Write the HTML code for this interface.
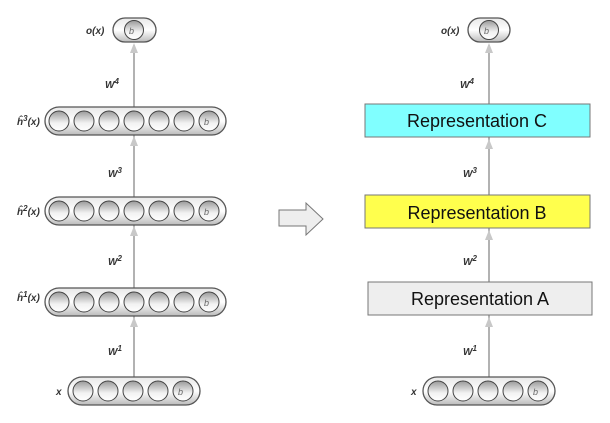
<!DOCTYPE html>
<html><head><style>body{margin:0;background:#fff}svg{display:block}</style></head><body>
<svg width="610" height="423" viewBox="0 0 610 423" xmlns="http://www.w3.org/2000/svg" font-family="Liberation Sans, sans-serif">
<defs>
<linearGradient id="g" x1="0" y1="0" x2="0" y2="1"><stop offset="0" stop-color="#e8e8e8"/><stop offset="0.5" stop-color="#fff"/><stop offset="1" stop-color="#bbb"/></linearGradient>
<linearGradient id="c" x1="0" y1="0" x2="0" y2="1"><stop offset="0" stop-color="#999"/><stop offset="0.6" stop-color="#f2f2f2"/><stop offset="1" stop-color="#fff"/></linearGradient>
</defs>
<g stroke="#999" stroke-width="1.5" fill="none">
<line x1="134" y1="45" x2="134" y2="377"/>
<line x1="489" y1="45" x2="489" y2="377"/>
</g>
<g fill="#c8c8c8">
<polygon points="134,43 130,53 138,53"/><polygon points="134,136 130,146 138,146"/><polygon points="134,226 130,236 138,236"/><polygon points="134,317 130,327 138,327"/>
<polygon points="489,43 485,53 493,53"/><polygon points="489,139 485,149 493,149"/><polygon points="489,230 485,240 493,240"/><polygon points="489,317 485,327 493,327"/>
</g>
<rect x="113" y="18" width="43" height="24" rx="12" fill="url(#g)" stroke="#555" stroke-width="1.3"/>
<circle cx="134" cy="30" r="9.5" fill="url(#c)" stroke="#444"/>
<rect x="468" y="18" width="42" height="24" rx="12" fill="url(#g)" stroke="#555" stroke-width="1.3"/>
<circle cx="489" cy="30" r="9.5" fill="url(#c)" stroke="#444"/>
<g font-size="9" font-style="italic" fill="#666"><text x="129" y="34">b</text><text x="484" y="34">b</text></g>
<g id="h">
<rect x="45" y="107" width="181" height="28" rx="14" fill="url(#g)" stroke="#555" stroke-width="1.3"/>
<g fill="url(#c)" stroke="#444">
<circle cx="59" cy="121" r="10"/><circle cx="84" cy="121" r="10"/><circle cx="109" cy="121" r="10"/><circle cx="134" cy="121" r="10"/><circle cx="159" cy="121" r="10"/><circle cx="184" cy="121" r="10"/><circle cx="209" cy="121" r="10"/>
</g>
<text x="204" y="125" font-size="9" font-style="italic" fill="#666">b</text>
</g>
<use href="#h" y="90"/>
<use href="#h" y="181"/>
<g id="xl">
<rect x="68" y="377" width="132" height="28" rx="14" fill="url(#g)" stroke="#555" stroke-width="1.3"/>
<g fill="url(#c)" stroke="#444">
<circle cx="83" cy="391" r="10"/><circle cx="108" cy="391" r="10"/><circle cx="133" cy="391" r="10"/><circle cx="158" cy="391" r="10"/><circle cx="183" cy="391" r="10"/>
</g>
<text x="178" y="395" font-size="9" font-style="italic" fill="#666">b</text>
</g>
<use href="#xl" x="355"/>
<g font-size="10" font-weight="bold" font-style="italic" fill="#333">
<text x="86" y="34">o(x)</text><text x="441" y="34">o(x)</text>
<text x="17" y="125">ĥ<tspan font-size="8" dy="-4">3</tspan><tspan dy="4">(x)</tspan></text>
<text x="17" y="215">ĥ<tspan font-size="8" dy="-4">2</tspan><tspan dy="4">(x)</tspan></text>
<text x="17" y="301">ĥ<tspan font-size="8" dy="-4">1</tspan><tspan dy="4">(x)</tspan></text>
<text x="56" y="395">x</text><text x="411" y="395">x</text>
<text x="105" y="88">W<tspan font-size="8" dy="-4">4</tspan></text><text x="108" y="177">W<tspan font-size="8" dy="-4">3</tspan></text><text x="108" y="265">W<tspan font-size="8" dy="-4">2</tspan></text><text x="108" y="355">W<tspan font-size="8" dy="-4">1</tspan></text>
<text x="460" y="88">W<tspan font-size="8" dy="-4">4</tspan></text><text x="463" y="177">W<tspan font-size="8" dy="-4">3</tspan></text><text x="463" y="265">W<tspan font-size="8" dy="-4">2</tspan></text><text x="463" y="355">W<tspan font-size="8" dy="-4">1</tspan></text>
</g>
<polygon points="279,210 306,210 306,203 323,219 306,235 306,226 279,226" fill="#eee" stroke="#777"/>
<rect x="365" y="104" width="225" height="33" fill="#80ffff" stroke="#777"/>
<rect x="365" y="195" width="225" height="33" fill="#ffff4d" stroke="#777"/>
<rect x="368" y="282" width="224" height="33" fill="#eeeeee" stroke="#777"/>
<g font-size="18" fill="#111" text-anchor="middle">
<text x="477" y="127">Representation C</text>
<text x="477" y="219">Representation B</text>
<text x="480" y="305">Representation A</text>
</g>
</svg>
</body></html>
